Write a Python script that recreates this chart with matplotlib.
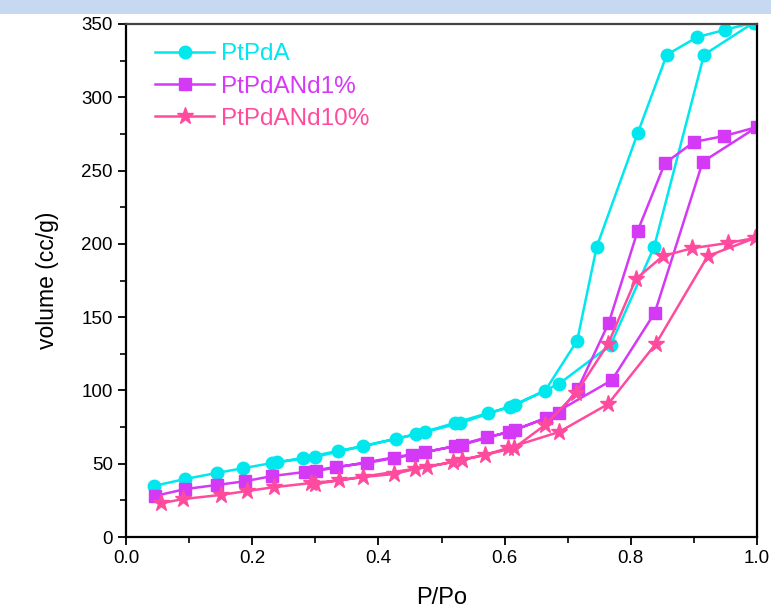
import matplotlib.pyplot as plt
from matplotlib.patches import Rectangle

# PtPdA: adsorption then desorption branch
ptpda_x = [0.044, 0.094, 0.144, 0.186, 0.232, 0.280, 0.336, 0.376, 0.428, 0.459, 0.521, 0.574, 0.608,
           0.686, 0.768, 0.837, 0.916, 0.995,
           0.949, 0.905, 0.857, 0.811, 0.746, 0.715, 0.664, 0.616, 0.530, 0.474, 0.299, 0.240]
ptpda_y = [34.8, 39.6, 43.7, 47.0, 50.5, 53.9, 58.7, 62.0, 66.9, 70.0, 77.8, 84.6, 88.7,
           104.4, 131.0, 198.0, 329.0, 351.0,
           346.0, 341.0, 329.0, 275.6, 198.0, 134.0, 99.6, 90.0, 77.8, 71.6, 54.6, 51.0]

nd1_x = [0.046, 0.094, 0.144, 0.188, 0.232, 0.284, 0.333, 0.382, 0.425, 0.453, 0.521, 0.572, 0.607,
         0.665, 0.770, 0.838, 0.914, 1.0,
         0.948, 0.900, 0.854, 0.811, 0.765, 0.716, 0.686, 0.616, 0.532, 0.474, 0.301]
nd1_y = [28.0, 32.7, 35.5, 38.0, 41.6, 44.4, 47.8, 50.5, 53.9, 56.0, 62.0, 68.0, 71.6,
         81.0, 107.0, 153.0, 256.0, 279.7,
         273.6, 269.5, 255.0, 209.0, 146.0, 101.0, 84.6, 73.0, 62.8, 58.0, 45.0]

nd10_x = [0.055, 0.091, 0.150, 0.192, 0.235, 0.293, 0.337, 0.376, 0.425, 0.458, 0.518, 0.569, 0.605,
          0.686, 0.764, 0.840, 0.922, 0.997,
          0.954, 0.897, 0.851, 0.808, 0.764, 0.713, 0.664, 0.615, 0.532, 0.477, 0.300]
nd10_y = [23.0, 25.9, 28.7, 31.4, 34.0, 36.8, 38.6, 40.9, 43.0, 46.4, 51.2, 56.0, 60.7,
          71.6, 90.7, 132.0, 191.7, 204.0,
          200.6, 197.0, 191.7, 176.0, 131.7, 98.0, 76.4, 60.7, 52.5, 47.8, 36.2]

labels = ['PtPdA', 'PtPdANd1%', 'PtPdANd10%']
colors = ['#00E8EE', '#D43AF5', '#FF4B9E']

plt.rcParams['font.family'] = ['Liberation Sans', 'DejaVu Sans']

fig = plt.figure(figsize=(7.71, 6.09), dpi=100)
fig.patches.append(Rectangle((0, 1 - 14 / 609), 1, 14 / 609, transform=fig.transFigure,
                             facecolor='#C6D9F0', edgecolor='none', zorder=0))
ax = fig.add_axes([126 / 771, 1 - 537 / 609, 631 / 771, 513 / 609])

ax.plot(ptpda_x, ptpda_y, '-o', color=colors[0], lw=1.8, ms=9, label=labels[0])
ax.plot(nd1_x, nd1_y, '-s', color=colors[1], lw=1.8, ms=8.5, label=labels[1])
ax.plot(nd10_x, nd10_y, '-*', color=colors[2], lw=1.8, ms=12.5, label=labels[2])

ax.set_xlim(0, 1.0)
ax.set_ylim(0, 350)
ax.set_xticks([0.0, 0.2, 0.4, 0.6, 0.8, 1.0])
ax.set_xticks([0.1, 0.3, 0.5, 0.7, 0.9], minor=True)
ax.set_yticks(range(0, 351, 50))
ax.set_yticks(range(25, 350, 50), minor=True)
ax.tick_params(which='major', direction='out', length=6, width=1.3, labelsize=13.5)
ax.tick_params(which='minor', direction='out', length=4, width=1.2)
for s in ax.spines.values():
    s.set_linewidth(1.6)
ax.spines['top'].set_color('#444444')

ax.set_xlabel('P/Po', fontsize=17, labelpad=14)
ax.set_ylabel('volume (cc/g)', fontsize=16.5, labelpad=16)

ax.legend(loc='upper left', bbox_to_anchor=(0.012, 1.005), frameon=False, fontsize=17.5,
          labelcolor='linecolor', handlelength=2.4, handletextpad=0.3, labelspacing=0.42)

fig.savefig('out.png', dpi=100)
